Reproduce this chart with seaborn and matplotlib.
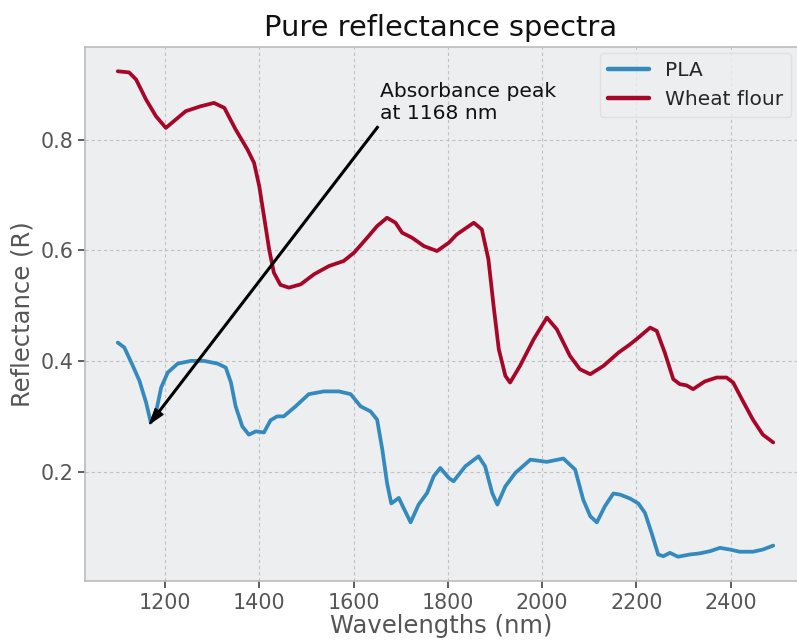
import matplotlib
matplotlib.use("Agg")
import matplotlib.pyplot as plt
import seaborn as sns
import pandas as pd

# ---- data ----
pla_nm = [1100, 1114, 1132, 1146, 1160, 1170, 1181, 1192, 1206, 1227, 1255, 1283, 1312, 1329,
          1340, 1350, 1364, 1378, 1393, 1410, 1424, 1438, 1452, 1477, 1505, 1537, 1569, 1594,
          1615, 1636, 1650, 1661, 1671, 1680, 1696, 1706, 1721, 1738, 1756, 1770, 1784, 1802,
          1812, 1837, 1865, 1879, 1894, 1905, 1922, 1943, 1975, 2010, 2045, 2070, 2087, 2102,
          2116, 2133, 2151, 2165, 2186, 2204, 2218, 2232, 2246, 2257, 2271, 2288, 2313, 2334,
          2356, 2377, 2398, 2419, 2447, 2468, 2490]
pla_r = [0.434, 0.425, 0.392, 0.365, 0.326, 0.290, 0.308, 0.353, 0.380, 0.396, 0.401, 0.401,
         0.396, 0.389, 0.362, 0.319, 0.283, 0.268, 0.274, 0.272, 0.294, 0.301, 0.301, 0.319,
         0.341, 0.346, 0.346, 0.341, 0.319, 0.310, 0.295, 0.241, 0.181, 0.144, 0.154, 0.136,
         0.110, 0.142, 0.163, 0.193, 0.208, 0.190, 0.184, 0.211, 0.229, 0.211, 0.163, 0.142,
         0.175, 0.199, 0.223, 0.219, 0.225, 0.205, 0.151, 0.121, 0.110, 0.139, 0.162, 0.160,
         0.153, 0.144, 0.127, 0.091, 0.052, 0.049, 0.055, 0.048, 0.052, 0.054, 0.058, 0.064,
         0.061, 0.057, 0.057, 0.061, 0.068]

wheat_nm = [1100, 1124, 1139, 1160, 1181, 1202, 1223, 1244, 1276, 1304, 1326, 1350, 1375,
            1389, 1400, 1410, 1421, 1431, 1445, 1463, 1488, 1516, 1548, 1579, 1601, 1629,
            1650, 1671, 1689, 1703, 1724, 1749, 1777, 1802, 1819, 1855, 1872, 1886, 1897,
            1908, 1922, 1932, 1953, 1982, 2010, 2031, 2059, 2080, 2102, 2130, 2162, 2185,
            2200, 2229, 2243, 2260, 2278, 2292, 2306, 2320, 2345, 2370, 2391, 2405, 2426,
            2447, 2468, 2490]
wheat_r = [0.923, 0.921, 0.908, 0.872, 0.842, 0.821, 0.836, 0.851, 0.860, 0.866, 0.857, 0.818,
           0.782, 0.758, 0.716, 0.662, 0.602, 0.560, 0.538, 0.533, 0.539, 0.557, 0.572, 0.581,
           0.596, 0.623, 0.644, 0.659, 0.650, 0.632, 0.623, 0.608, 0.599, 0.614, 0.629, 0.650,
           0.638, 0.584, 0.500, 0.422, 0.374, 0.362, 0.392, 0.440, 0.479, 0.458, 0.410, 0.386,
           0.377, 0.392, 0.416, 0.430, 0.440, 0.461, 0.455, 0.416, 0.368, 0.359, 0.357, 0.350,
           0.364, 0.371, 0.371, 0.362, 0.328, 0.295, 0.268, 0.254]

series_names = ["PLA", "Wheat flour"]
series_colors = ["#348ABD", "#A60628"]

df = pd.concat([
    pd.DataFrame({"nm": pla_nm, "R": pla_r, "sample": series_names[0]}),
    pd.DataFrame({"nm": wheat_nm, "R": wheat_r, "sample": series_names[1]}),
], ignore_index=True)

sns.set_theme(style="darkgrid")
plt.rcParams["font.family"] = ["DejaVu Sans"]

fig = plt.figure(figsize=(7.97, 6.4), dpi=100)
# the reference's plot area runs past the right edge of the picture;
# keep the same data scale but end the axes at the picture edge
ax = fig.add_axes([85 / 797, 59 / 640, 712 / 797, 534 / 640])
ax.set_facecolor("#eceef0")

sns.lineplot(data=df, x="nm", y="R", hue="sample", palette=series_colors,
             linewidth=2.7, ax=ax, sort=False, estimator=None,
             solid_joinstyle="round", solid_capstyle="round")

ax.margins(x=0.05, y=0.05)
x0, x1 = ax.get_xlim()
ax.set_xlim(x0, x0 + (x1 - x0) * 712 / 721)
ax.grid(True, color="#c2c2c2", linestyle=(0, (3, 2.5)), linewidth=0.8)
for s in ["left", "bottom", "top"]:
    ax.spines[s].set_visible(True)
    ax.spines[s].set_color("#bcbcbc")
    ax.spines[s].set_linewidth(1.2)
ax.spines["right"].set_visible(False)

ax.tick_params(axis="both", which="major", labelsize=14.9, colors="#444444",
               length=5, width=1.2, left=True, bottom=True, top=False, right=False,
               labelcolor="#555555")
ax.set_xticks([1200, 1400, 1600, 1800, 2000, 2200, 2400])
ax.set_yticks([0.2, 0.4, 0.6, 0.8])

ax.set_xlabel("Wavelengths (nm)", fontsize=17.5, color="#555555", labelpad=1)
ax.set_ylabel("Reflectance (R)", fontsize=17.5, color="#555555")
ax.set_title("Pure reflectance spectra", fontsize=20.8, color="#111111", pad=8)

ax.annotate("Absorbance peak\nat 1168 nm", xy=(1168, 0.288), xytext=(1657, 0.829),
            fontsize=14.6, color="#111111", ha="left", va="bottom",
            arrowprops=dict(facecolor="black", edgecolor="black", width=1.2,
                            headwidth=7, headlength=11, shrink=0.0))

leg = ax.legend(loc="upper right", fontsize=14.5, frameon=True, title=None,
                borderaxespad=0.3)
leg.get_frame().set_facecolor("#eceef0")
leg.get_frame().set_edgecolor("#dddddd")
for line in leg.get_lines():
    line.set_linewidth(3.2)

fig.savefig("out.png", dpi=100)
